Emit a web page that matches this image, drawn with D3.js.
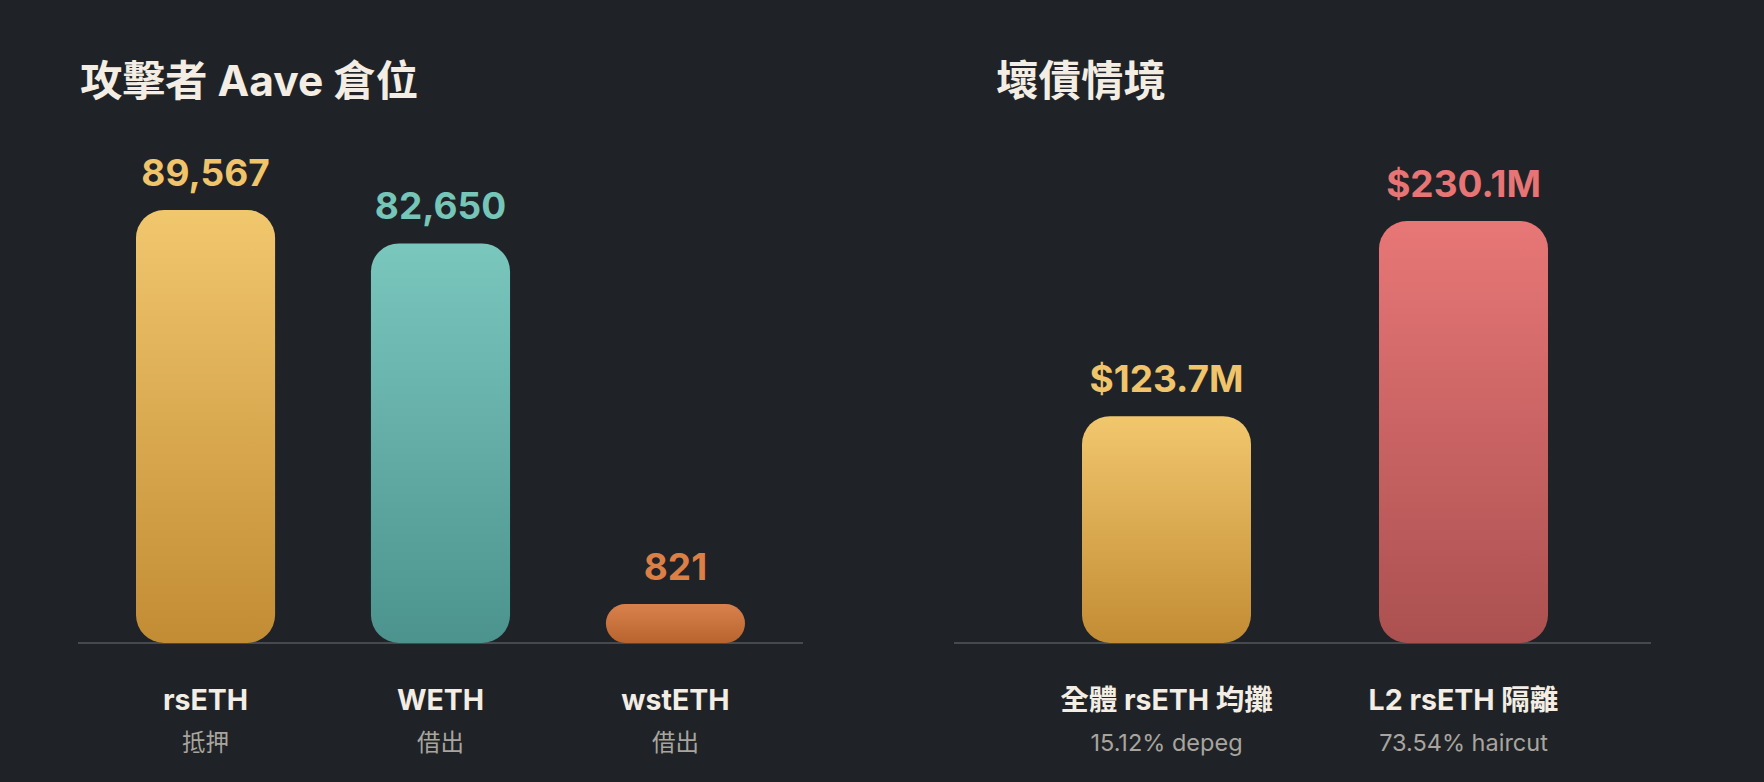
<!DOCTYPE html>
<html>
<head>
<meta charset="utf-8">
<script src="https://cdn.jsdelivr.net/npm/d3@7"></script>
<style>
  html, body { margin: 0; padding: 0; background: #1f2327; }
  svg { display: block; }
  text { font-family: Inter, "Noto Sans CJK TC", sans-serif; }
</style>
</head>
<body>
<svg id="chart" width="1764" height="782"></svg>
<script>
// ---- Data ----
const positionTitle = "攻擊者 Aave 倉位";
const positionCategories = ["rsETH", "WETH", "wstETH"];
const positionRoles = ["抵押", "借出", "借出"];
const positionValues = [89567, 82650, 821];
const positionLabels = ["89,567", "82,650", "821"];

const debtTitle = "壞債情境";
const debtCategories = ["全體 rsETH 均攤", "L2 rsETH 隔離"];
const debtNotes = ["15.12% depeg", "73.54% haircut"];
const debtValues = [123.7, 230.1];
const debtLabels = ["$123.7M", "$230.1M"];

// ---- Styles ----
const positionColors = [
  {top: "#f1c76d", bottom: "#c28c34", label: "#f0c46a"},
  {top: "#7ac7be", bottom: "#4c938e", label: "#76c5b9"},
  {top: "#d9814d", bottom: "#b8642e", label: "#db7f47"}
];
const debtColors = [
  {top: "#f1c76d", bottom: "#c28c34", label: "#f0c46a"},
  {top: "#e87777", bottom: "#ab5050", label: "#e87575"}
];

const svg = d3.select("#chart");
const defs = svg.append("defs");
const baseY = 643;

function gradient(id, c) {
  const g = defs.append("linearGradient").attr("id", id)
    .attr("x1", 0).attr("y1", 0).attr("x2", 0).attr("y2", 1);
  g.append("stop").attr("offset", "0%").attr("stop-color", c.top);
  g.append("stop").attr("offset", "100%").attr("stop-color", c.bottom);
}

function panel(opts) {
  const g = svg.append("g");
  g.append("text")
    .attr("x", opts.titleX).attr("y", 96)
    .attr("fill", "#f3ede4")
    .attr("font-size", 42.5).attr("font-weight", 700)
    .text(opts.title);

  const x = d3.scaleBand()
    .domain(opts.categories)
    .range(opts.bandRange)
    .paddingInner(opts.padInner)
    .paddingOuter(0);
  const y = d3.scaleLinear()
    .domain([0, d3.max(opts.values)])
    .range([baseY, opts.topY]);

  // axis baseline
  g.append("line")
    .attr("x1", opts.axisRange[0]).attr("x2", opts.axisRange[1])
    .attr("y1", baseY).attr("y2", baseY)
    .attr("stroke", "#46494d").attr("stroke-width", 2);

  opts.colors.forEach((c, i) => gradient(opts.id + i, c));

  const minH = 39;
  const data = opts.categories.map((cat, i) => {
    const h = Math.max(baseY - y(opts.values[i]), minH);
    return {cat, i, h, top: baseY - h};
  });

  g.selectAll("rect.bar").data(data).join("rect")
    .attr("class", "bar")
    .attr("x", d => x(d.cat))
    .attr("y", d => d.top)
    .attr("width", x.bandwidth())
    .attr("height", d => d.h)
    .attr("rx", d => Math.min(28, d.h / 2))
    .attr("ry", d => Math.min(28, d.h / 2))
    .attr("fill", d => `url(#${opts.id}${d.i})`);

  g.selectAll("text.val").data(data).join("text")
    .attr("class", "val")
    .attr("x", d => x(d.cat) + x.bandwidth() / 2)
    .attr("y", d => d.top - 24)
    .attr("text-anchor", "middle")
    .attr("font-size", 37).attr("font-weight", 700)
    .attr("fill", d => opts.colors[d.i].label)
    .text(d => opts.labels[d.i]);

  g.selectAll("text.cat").data(data).join("text")
    .attr("class", "cat")
    .attr("x", d => x(d.cat) + x.bandwidth() / 2)
    .attr("y", 710)
    .attr("text-anchor", "middle")
    .attr("font-size", 28.5).attr("font-weight", 700)
    .attr("fill", "#f3ede4")
    .text(d => d.cat);

  g.selectAll("text.sub").data(data).join("text")
    .attr("class", "sub")
    .attr("x", d => x(d.cat) + x.bandwidth() / 2)
    .attr("y", 751)
    .attr("text-anchor", "middle")
    .attr("font-size", 23.5).attr("font-weight", 400)
    .attr("fill", "#a9a59e")
    .text(d => opts.subs[d.i]);
}

panel({
  id: "pos", title: positionTitle, titleX: 80,
  categories: positionCategories, values: positionValues,
  labels: positionLabels, subs: positionRoles, colors: positionColors,
  bandRange: [136, 745], padInner: 0.408, topY: 210,
  axisRange: [78, 803]
});

panel({
  id: "debt", title: debtTitle, titleX: 996,
  categories: debtCategories, values: debtValues,
  labels: debtLabels, subs: debtNotes, colors: debtColors,
  bandRange: [1082, 1548], padInner: 0.431, topY: 221,
  axisRange: [954, 1651]
});
</script>
</body>
</html>
